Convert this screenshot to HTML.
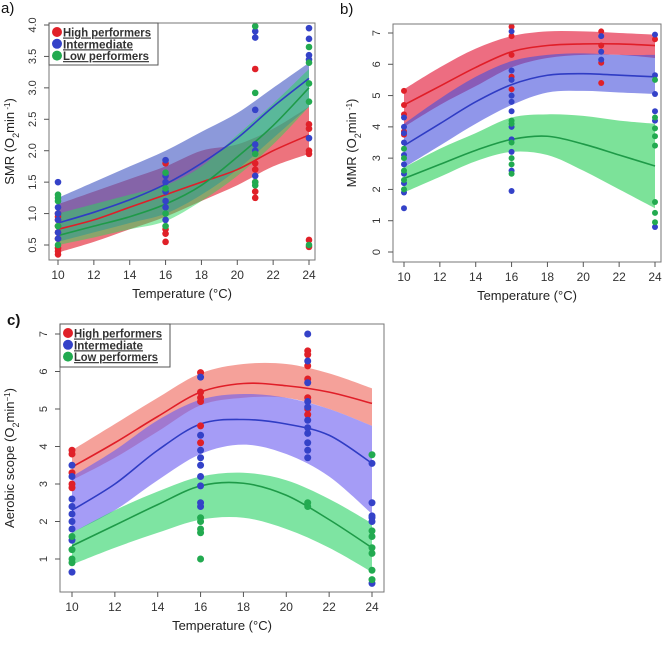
<!DOCTYPE html>
<html><head><meta charset="utf-8"><style>
body{margin:0;background:#fff;width:666px;height:640px;overflow:hidden}
svg{font-family:"Liberation Sans",sans-serif}
</style></head><body>
<svg id="fig" width="666" height="640" viewBox="0 0 666 640" xmlns="http://www.w3.org/2000/svg"></svg>
<script>
// Shared temperature grid for fitted curves
const gridT = [10,12,14,16,18,20,22,24];
const xTicks = [10,12,14,16,18,20,22,24];
const groups = ["High performers","Intermediate","Low performers"];
const ptTemps = [10,16,21,24];

// Panel a: SMR
const aTicks = [0.5,1.0,1.5,2.0,2.5,3.0,3.5,4.0];
const aRedMean=[0.75,0.9,1.1,1.3,1.5,1.7,2.0,2.25];
const aRedLo=[0.38,0.55,0.75,0.95,1.2,1.45,1.75,1.95];
const aRedHi=[1.15,1.35,1.55,1.75,2.0,2.1,2.35,2.7];
const aBlueMean=[0.85,1.02,1.22,1.47,1.8,2.2,2.7,3.15];
const aBlueLo=[0.55,0.7,0.85,1.0,1.3,1.7,2.2,2.7];
const aBlueHi=[1.25,1.5,1.75,2.0,2.3,2.6,3.0,3.4];
const aGreenMean=[0.65,0.8,0.95,1.15,1.45,1.9,2.4,3.0];
const aGreenLo=[0.5,0.62,0.75,0.88,1.2,1.6,2.1,2.7];
const aGreenHi=[1.0,1.15,1.3,1.45,1.75,2.25,2.75,3.3];
const aRedPts=[[0.35,0.4,0.45,0.6,0.7,0.8,0.9,0.95,1.0],[0.55,0.68,0.75,1.8],[1.25,1.35,1.5,1.7,1.8,3.3],[0.47,0.58,1.95,2.0,2.35,2.42]];
const aBluePts=[[0.6,0.7,0.9,1.0,1.1,1.5],[0.9,1.1,1.2,1.35,1.5,1.6,1.85],[1.6,2.0,2.1,2.65,3.8,3.9],[2.2,3.45,3.52,3.78,3.95]];
const aGreenPts=[[0.5,0.8,1.2,1.25,1.3],[0.8,1.0,1.4,1.65],[1.45,1.5,1.95,2.92,3.98],[0.5,2.78,3.07,3.4,3.65]];

// Panel b: MMR
const bTicks=[0,1,2,3,4,5,6,7];
const bRedMean=[4.7,5.3,5.9,6.4,6.6,6.65,6.65,6.6];
const bRedLo=[4.0,4.7,5.3,5.9,6.2,6.3,6.3,6.2];
const bRedHi=[5.2,5.9,6.5,6.9,7.05,7.05,7.0,6.95];
const bBlueMean=[3.4,4.1,4.8,5.35,5.65,5.7,5.65,5.6];
const bBlueLo=[2.7,3.4,4.1,4.7,5.1,5.15,5.1,5.05];
const bBlueHi=[4.1,4.9,5.6,6.1,6.3,6.35,6.3,6.3];
const bGreenMean=[2.35,2.8,3.25,3.6,3.7,3.45,3.1,2.75];
const bGreenLo=[1.9,2.4,2.9,3.2,3.1,2.6,2.0,1.4];
const bGreenHi=[2.7,3.3,3.8,4.3,4.4,4.35,4.2,4.1];
const bRedPts=[[3.75,3.85,4.4,4.7,5.15],[5.2,5.6,6.3,6.9,7.2],[5.4,6.05,6.6,7.05],[6.8]];
const bBluePts=[[1.4,1.9,2.2,2.5,2.8,3.1,3.5,3.8,4.0,4.3],[1.95,2.6,3.2,3.6,4.0,4.5,4.8,5.0,5.5,5.8,7.05],[6.15,6.4,6.9],[0.8,4.2,4.5,5.05,5.65,6.95]];
const bGreenPts=[[2.0,2.3,2.6,3.0,3.3],[2.5,2.8,3.0,3.5,4.1,4.2],[],[0.95,1.25,1.6,3.4,3.7,3.95,4.3,5.5]];

// Panel c: Aerobic scope
const cTicks=[1,2,3,4,5,6,7];
const cRedMean=[3.45,4.1,4.8,5.45,5.68,5.62,5.45,5.15];
const cRedLo=[3.1,3.7,4.4,5.1,5.3,5.3,5.0,4.55];
const cRedHi=[3.9,4.6,5.3,5.95,6.2,6.2,5.95,5.55];
const cBlueMean=[2.3,3.0,3.9,4.6,4.72,4.6,4.3,3.55];
const cBlueLo=[1.7,2.3,3.1,3.8,4.05,3.8,3.2,2.2];
const cBlueHi=[3.2,3.9,4.7,5.25,5.4,5.3,5.0,4.55];
const cGreenMean=[1.35,1.9,2.45,2.95,3.02,2.7,2.05,1.3];
const cGreenLo=[0.85,1.3,1.7,2.05,2.1,1.8,1.3,0.65];
const cGreenHi=[1.7,2.3,2.8,3.2,3.3,3.1,2.6,1.95];
const cRedPts=[[2.9,3.0,3.3,3.8,3.9],[4.1,4.55,5.2,5.3,5.45,5.97],[4.85,5.0,5.3,5.8,6.15,6.45,6.55],[]];
const cBluePts=[[0.65,1.5,1.8,2.0,2.2,2.4,2.6,3.2,3.5],[2.4,2.5,2.95,3.2,3.5,3.7,3.9,4.3,5.85],[3.7,3.9,4.1,4.35,4.5,4.7,5.05,5.2,5.7,6.28,7.0],[0.35,2.0,2.1,2.15,2.5,3.55]];
const cGreenPts=[[0.9,1.0,1.25,1.6],[1.0,1.7,1.8,2.0,2.1],[2.4,2.5],[0.45,0.7,1.15,1.3,1.6,1.75,3.78]];

const NS="http://www.w3.org/2000/svg";
const svg=document.getElementById("fig");
function mk(tag,attrs,parent){const e=document.createElementNS(NS,tag);for(const k in attrs)e.setAttribute(k,attrs[k]);(parent||svg).appendChild(e);return e;}

const lineCols=["#e01e28","#2f3cc4","#1e9a48"];
const ptCols=["#e02028","#3442c8","#22aa50"];

// Catmull-Rom smooth path segment through points (no initial M)
function smooth(pts){
  let d="";
  for(let i=0;i<pts.length-1;i++){
    const p0=pts[Math.max(0,i-1)],p1=pts[i],p2=pts[i+1],p3=pts[Math.min(pts.length-1,i+2)];
    const c1=[p1[0]+(p2[0]-p0[0])/6,p1[1]+(p2[1]-p0[1])/6];
    const c2=[p2[0]-(p3[0]-p1[0])/6,p2[1]-(p3[1]-p1[1])/6];
    d+="C"+c1[0]+","+c1[1]+" "+c2[0]+","+c2[1]+" "+p2[0]+","+p2[1];
  }
  return d;
}

function panel(P){
  const g=mk("g",{});
  
  
  const sx=t=>P.x10+(t-10)*(P.x24-P.x10)/14;
  const sy=v=>P.yA+(v-P.vA)*(P.yB-P.yA)/(P.vB-P.vA);
  const series=[[P.rm,P.rl,P.rh,P.rp],[P.bm,P.bl,P.bh,P.bp],[P.gm,P.gl,P.gh,P.gp]];
  series.forEach((s,i)=>{
    const up=gridT.map((t,j)=>[sx(t),sy(s[2][j])]);
    const lo=gridT.map((t,j)=>[sx(t),sy(s[1][j])]).reverse();
    const d="M"+up[0][0]+","+up[0][1]+smooth(up)+"L"+lo[0][0]+","+lo[0][1]+smooth(lo)+"Z";
    const band=mk("path",{d:d,fill:P.bands[i],stroke:"none"},g);
    
    
  });
  series.forEach((s,i)=>{
    const pts=gridT.map((t,j)=>[sx(t),sy(s[0][j])]);
    const ln=mk("path",{d:"M"+pts[0][0]+","+pts[0][1]+smooth(pts),fill:"none",stroke:lineCols[i],"stroke-width":1.6},g);
    
    
  });
  series.forEach((s,i)=>{
    s[3].forEach((vals,k)=>vals.forEach(v=>{
      const c=mk("circle",{cx:sx(ptTemps[k]),cy:sy(v),r:P.r,fill:ptCols[i]},g);
      
      
    }));
  });
  const box=mk("rect",{x:P.L,y:P.T,width:P.R-P.L,height:P.B-P.T,fill:"none",stroke:"#777","stroke-width":1},g);
  
  
  xTicks.forEach(t=>{
    mk("line",{x1:sx(t),x2:sx(t),y1:P.B,y2:P.B+5,stroke:"#555"},g);
    const tx=mk("text",{x:sx(t),y:P.B+19,"text-anchor":"middle","font-size":12,fill:"#333"},g);
    tx.textContent=t;
    
    
  });
  P.ticks.forEach(v=>{
    mk("line",{x1:P.L-5,x2:P.L,y1:sy(v),y2:sy(v),stroke:"#555"},g);
    const tx=mk("text",{x:P.L-13,y:sy(v),"text-anchor":"middle","font-size":11,fill:"#333",transform:"rotate(-90 "+(P.L-13)+" "+sy(v)+")"},g);
    tx.textContent=P.fmt(v);
    
    
  });
  const xt=mk("text",{x:(P.L+P.R)/2,y:P.B+38,"text-anchor":"middle","font-size":13,fill:"#222"},g);
  xt.textContent="Temperature (°C)";
  
  
  const yt=mk("text",{x:P.ytx,y:(P.T+P.B)/2,"text-anchor":"middle","font-size":13,fill:"#222",transform:"rotate(-90 "+P.ytx+" "+((P.T+P.B)/2)+")"},g);
  yt.innerHTML=P.ytitle;
  
  
  const lab=mk("text",{x:P.labx,y:P.laby,"font-size":15,fill:"#111","font-weight":P.labw},g);
  lab.textContent=P.label;
  
  
  if(P.leg){
    const lg=mk("g",{},g);
    
    
    mk("rect",{x:P.L,y:P.T,width:P.leg.w,height:P.leg.h,fill:"none",stroke:"#555"},lg);
    groups.forEach((gname,i)=>{
      const yy=P.T+9+i*11.8;
      const c=mk("circle",{cx:P.L+8,cy:yy,r:5,fill:ptCols[i]},lg);
      
      
      const t=mk("text",{x:P.L+14,y:yy+4.5,"font-size":11.5,"font-weight":"bold",fill:"#333","text-decoration":"underline",textLength:P.leg.tl[i],lengthAdjust:"spacingAndGlyphs"},lg);
      t.textContent=gname;
      
      
    });
  }
}

panel({name:"panel-a-smr",L:49,R:315,T:23,B:260,x10:58,x24:309,yA:25,vA:4.0,yB:245,vB:0.5,r:3.3,
 bands:["rgba(228,40,55,0.65)","rgba(70,90,195,0.62)","rgba(40,215,90,0.5)"],
 rm:aRedMean,rl:aRedLo,rh:aRedHi,bm:aBlueMean,bl:aBlueLo,bh:aBlueHi,gm:aGreenMean,gl:aGreenLo,gh:aGreenHi,
 rp:aRedPts,bp:aBluePts,gp:aGreenPts,ticks:aTicks,fmt:v=>v.toFixed(1),ytx:14,
 ytitle:'SMR (O<tspan baseline-shift="sub" font-size="9">2</tspan>min<tspan baseline-shift="super" font-size="8"> -1</tspan>)',
 label:"a)",labx:1,laby:13,labw:"normal",leg:{w:109,h:42,tl:[88,70,86]}});
panel({name:"panel-b-mmr",L:393,R:661,T:24,B:262,x10:404,x24:655,yA:33,vA:7,yB:252,vB:0,r:3,
 bands:["rgba(228,40,70,0.68)","rgba(70,80,220,0.6)","rgba(30,205,80,0.58)"],
 rm:bRedMean,rl:bRedLo,rh:bRedHi,bm:bBlueMean,bl:bBlueLo,bh:bBlueHi,gm:bGreenMean,gl:bGreenLo,gh:bGreenHi,
 rp:bRedPts,bp:bBluePts,gp:bGreenPts,ticks:bTicks,fmt:v=>String(v),ytx:356,
 ytitle:'MMR (O<tspan baseline-shift="sub" font-size="9">2</tspan>min<tspan baseline-shift="super" font-size="8"> -1</tspan>)',
 label:"b)",labx:340,laby:14,labw:"normal",leg:null});
panel({name:"panel-c-aerobic-scope",L:60,R:384,T:324,B:592,x10:72,x24:372,yA:334,vA:7,yB:559,vB:1,r:3.5,
 bands:["rgba(240,110,100,0.65)","rgba(110,95,240,0.62)","rgba(40,210,100,0.6)"],
 rm:cRedMean,rl:cRedLo,rh:cRedHi,bm:cBlueMean,bl:cBlueLo,bh:cBlueHi,gm:cGreenMean,gl:cGreenLo,gh:cGreenHi,
 rp:cRedPts,bp:cBluePts,gp:cGreenPts,ticks:cTicks,fmt:v=>String(v),ytx:14,
 ytitle:'Aerobic scope (O<tspan baseline-shift="sub" font-size="9">2</tspan>min<tspan baseline-shift="super" font-size="8">−1</tspan>)',
 label:"c)",labx:7,laby:325,labw:"bold",leg:{w:110,h:43,tl:[88,69,84]}});
</script>
</body></html>
